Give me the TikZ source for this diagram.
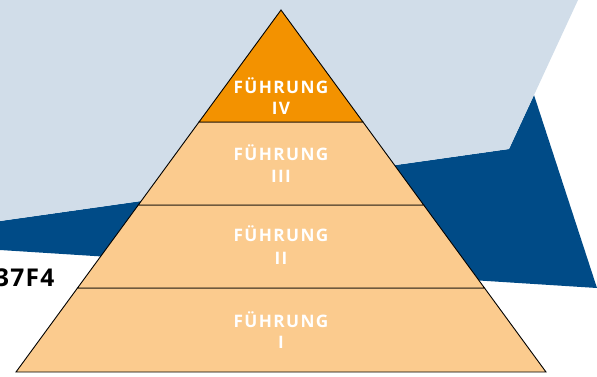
\documentclass[tikz,border=0pt]{standalone}
\usepackage{fontspec}
\newfontfamily\labelfont{Open Sans}[LetterSpace=8]
\newfontfamily\codefont{Open Sans}[LetterSpace=5]
\definecolor{lightbg}{HTML}{D1DDE9}
\definecolor{darkbg}{HTML}{004B87}
\definecolor{toplayer}{HTML}{F39200}
\definecolor{layerfill}{HTML}{FBCB8E}
\tikzset{
  layer/.style={draw=black, line width=0.9pt, line join=miter},
  lbl/.style={text=white, font=\labelfont\bfseries\fontsize{17.2}{20}\selectfont, anchor=base, inner sep=0pt},
  code/.style={text=black, font=\codefont\bfseries\fontsize{24.5}{27}\selectfont, anchor=base east, inner sep=0pt}
}
\begin{document}
\begin{tikzpicture}[x=1pt,y=-1pt]
\useasboundingbox (0,0) rectangle (597,376);
% background shapes
\fill[darkbg] (0,221) -- (509,149) -- (534,95) -- (597,288) -- (0,250) -- cycle;
\fill[lightbg] (0,0) -- (578,0) -- (509,149) -- (0,221) -- cycle;
% cut text at the left
\node[code] (codetxt) at (54.5,286) {37F4};
% pyramid
\coordinate (apex) at (281,10);
\coordinate (bl) at (16,372);
\coordinate (br) at (546,372);
\coordinate (l1) at (199,122);   \coordinate (r1) at (363,122);
\coordinate (l2) at (138.3,205); \coordinate (r2) at (423.7,205);
\coordinate (l3) at (77.5,288);  \coordinate (r3) at (484.5,288);
\filldraw[layer, fill=layerfill] (l3) -- (r3) -- (br) -- (bl) -- cycle;
\filldraw[layer, fill=layerfill] (l2) -- (r2) -- (r3) -- (l3) -- cycle;
\filldraw[layer, fill=layerfill] (l1) -- (r1) -- (r2) -- (l2) -- cycle;
\filldraw[layer, fill=toplayer] (apex) -- (r1) -- (l1) -- cycle;
% labels
\node[lbl] (t4a) at (281,93) {FÜHRUNG};
\node[lbl] (t4b) at (281,114.5) {IV};
\node[lbl] (t3a) at (281,160) {FÜHRUNG};
\node[lbl] (t3b) at (281,182.7) {III};
\node[lbl] (t2a) at (281,241.7) {FÜHRUNG};
\node[lbl] (t2b) at (281,264.3) {II};
\node[lbl] (t1a) at (281,327) {FÜHRUNG};
\node[lbl] (t1b) at (281,348) {I};
\end{tikzpicture}
\end{document}
